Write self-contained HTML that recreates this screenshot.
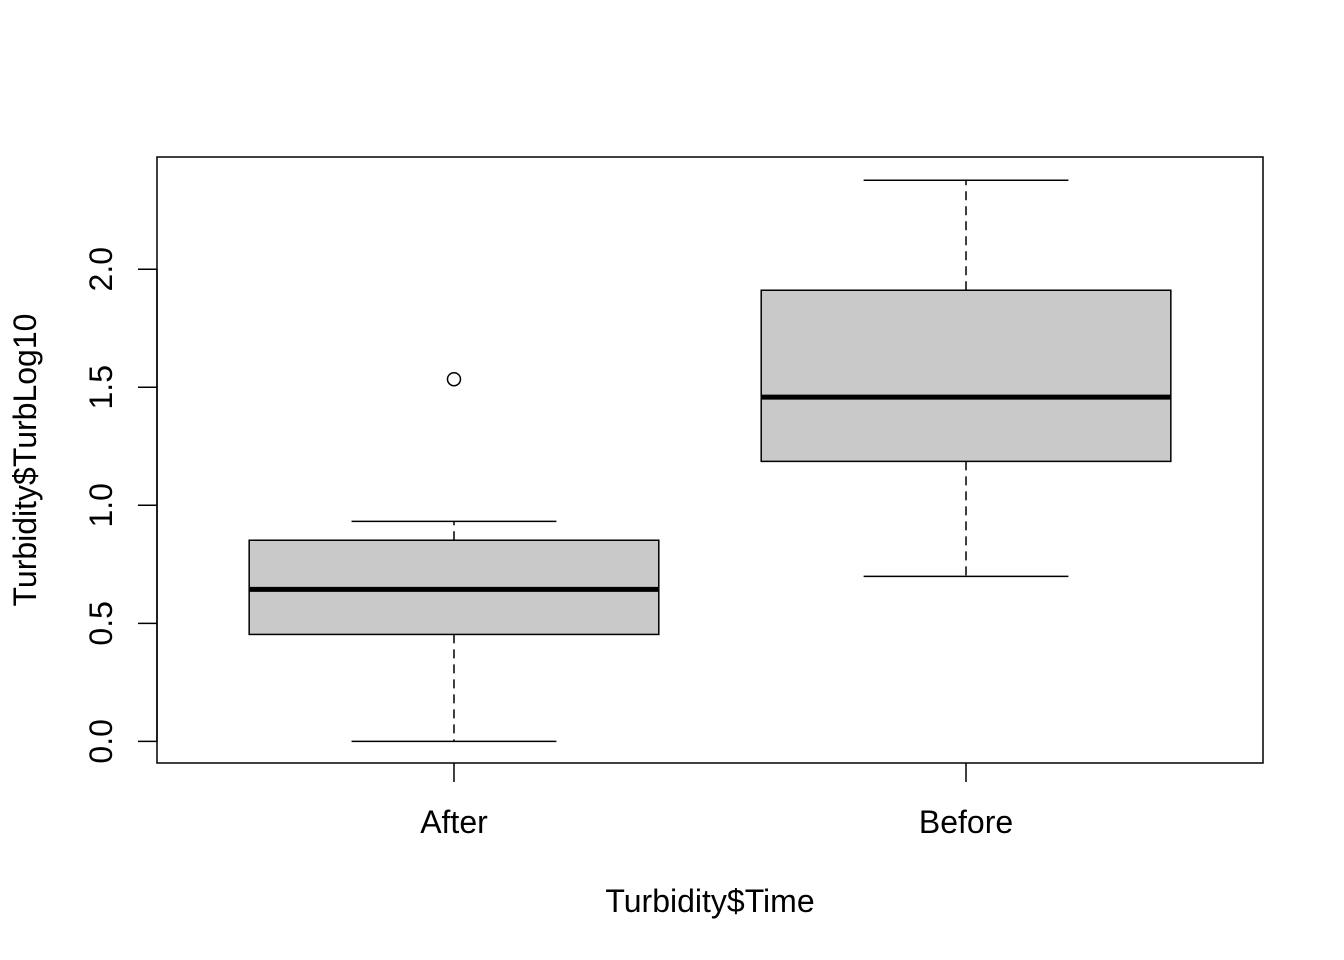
<!DOCTYPE html>
<html><head><meta charset="utf-8"><style>
html,body{margin:0;padding:0;background:#fff}
svg{display:block;font-family:"Liberation Sans",Arial,sans-serif}
</style></head><body>
<svg id="chart" width="1344" height="960" xmlns="http://www.w3.org/2000/svg">
<rect x="157" y="157" width="1106" height="606" fill="none" stroke="#000" stroke-width="1.5"/>
<g id="boxes"></g>
<g id="axes"></g>
<text x="710" y="912" font-size="32" text-anchor="middle">Turbidity$Time</text>
<text transform="translate(36,460) rotate(-90)" font-size="32" text-anchor="middle">Turbidity$TurbLog10</text>
</svg>
<script>
const categories = ["After","Before"];
const mins = [0.0, 0.699];
const q1s = [0.453, 1.186];
const medians = [0.644, 1.458];
const q3s = [0.852, 1.911];
const maxs = [0.932, 2.377];
const outliers = [[1.534], []];
const yTicks = [0.0, 0.5, 1.0, 1.5, 2.0];
const yTickLabels = ["0.0","0.5","1.0","1.5","2.0"];

const NS = "http://www.w3.org/2000/svg";
const L = 157, R = 1263, T = 157, B = 763;
const xMin = 0.42, xMax = categories.length + 0.58;
const yLo = -0.095, yHi = 2.472;
const xs = v => L + (v - xMin) / (xMax - xMin) * (R - L);
const ys = v => B + 0.8 - (v - yLo) / (yHi - yLo) * (B - T);
const unit = (R - L) / (xMax - xMin);

function mk(tag, attrs, parent) {
  const e = document.createElementNS(NS, tag);
  for (const k in attrs) e.setAttribute(k, attrs[k]);
  parent.appendChild(e);
  return e;
}
const gb = document.getElementById('boxes');
const ga = document.getElementById('axes');

categories.forEach((c, i) => {
  const cx = xs(i + 1), hw = unit * 0.4, cw = unit * 0.2;
  const g = mk('g', {}, gb);
  
  
  const w1 = mk('line', {x1: cx, x2: cx, y1: ys(q1s[i]), y2: ys(mins[i]), stroke: '#000', 'stroke-width': 1.5, 'stroke-dasharray': '9,6'}, g);
  
  
  const w2 = mk('line', {x1: cx, x2: cx, y1: ys(q3s[i]), y2: ys(maxs[i]), stroke: '#000', 'stroke-width': 1.5, 'stroke-dasharray': '9,6'}, g);
  
  
  const c1 = mk('line', {x1: cx - cw, x2: cx + cw, y1: ys(mins[i]), y2: ys(mins[i]), stroke: '#000', 'stroke-width': 1.5}, g);
  
  
  const c2 = mk('line', {x1: cx - cw, x2: cx + cw, y1: ys(maxs[i]), y2: ys(maxs[i]), stroke: '#000', 'stroke-width': 1.5}, g);
  
  
  const r = mk('rect', {x: cx - hw, y: ys(q3s[i]), width: 2 * hw, height: ys(q1s[i]) - ys(q3s[i]), fill: '#c9c9c9', stroke: '#000', 'stroke-width': 1.5}, g);
  
  
  const m = mk('line', {x1: cx - hw, x2: cx + hw, y1: ys(medians[i]), y2: ys(medians[i]), stroke: '#000', 'stroke-width': 5}, g);
  
  
  outliers[i].forEach(v => {
    const o = mk('circle', {cx: cx, cy: ys(v), r: 6.5, fill: 'none', stroke: '#000', 'stroke-width': 1.5}, g);
    
    
  });
  const t = mk('line', {x1: cx, x2: cx, y1: B, y2: B + 19, stroke: '#000', 'stroke-width': 1.5}, ga);
  
  
  const tl = mk('text', {x: cx, y: B + 70, 'font-size': 32, 'text-anchor': 'middle'}, ga);
  tl.textContent = c;
  
  
});

const yl = mk('line', {x1: L, x2: L, y1: ys(yTicks[0]), y2: ys(yTicks[yTicks.length - 1]), stroke: '#000', 'stroke-width': 1.5}, ga);


yTicks.forEach((v, i) => {
  const y = ys(v);
  const t = mk('line', {x1: L - 19, x2: L, y1: y, y2: y, stroke: '#000', 'stroke-width': 1.5}, ga);
  
  
  const tl = mk('text', {transform: `translate(112,${y}) rotate(-90)`, 'font-size': 32, 'text-anchor': 'middle'}, ga);
  tl.textContent = yTickLabels[i];
  
  
});
</script>
</body></html>
